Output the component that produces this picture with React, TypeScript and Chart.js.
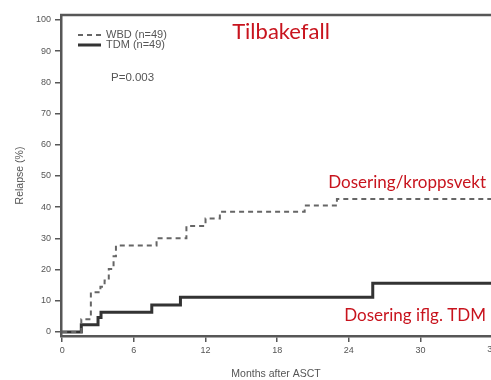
import React, { useEffect, useRef } from "react";
import { Chart, registerables } from "chart.js";

Chart.register(...registerables);

// ---- data ----
const xTickValues = [0, 6, 12, 18, 24, 30];
const xEdgeTick = 36; // partly cut off at the right edge
const yTickValues = [0, 10, 20, 30, 40, 50, 60, 70, 80, 90, 100];

const wbdLabel = "WBD (n=49)";
const wbdMonths = [0, 1.6, 2.4, 3.2, 3.55, 3.9, 4.3, 4.5, 7.9, 10.4, 12.0, 13.2, 20.3, 23.0, 35.9];
const wbdRelapse = [0, 4.1, 12.7, 14.5, 16.5, 20.2, 24.3, 27.7, 30.0, 34.0, 36.4, 38.5, 40.5, 42.6, 42.6];

const tdmLabel = "TDM (n=49)";
const tdmMonths = [0, 1.6, 3.0, 3.25, 7.5, 9.9, 26.0, 35.9];
const tdmRelapse = [0, 2.3, 4.6, 6.3, 8.6, 11.1, 15.6, 15.6];

const pValueText = "P=0.003";
const titleText = "Tilbakefall";
const wbdNote = "Dosering/kroppsvekt";
const tdmNote = "Dosering iflg. TDM";
const xTitle = "Months after ASCT";
const yTitle = "Relapse (%)";

const AXIS = "#575757";
const TEXT = "#555555";
const RED = "#c8141e";
const FONT = "'Liberation Sans', Arial, sans-serif";

const toPoints = (xs: number[], ys: number[]) => xs.map((x, i) => ({ x, y: ys[i] }));

const decorPlugin = {
  id: "decor",
  afterDraw(chart: any) {
    const { ctx, chartArea } = chart;
    ctx.save();
    // top frame line
    ctx.strokeStyle = AXIS;
    ctx.lineWidth = 2.5;
    ctx.beginPath();
    ctx.moveTo(chartArea.left - 1, chartArea.top);
    ctx.lineTo(chartArea.right, chartArea.top);
    ctx.stroke();

    // edge tick label (cut off by the canvas edge)
    const xs = chart.scales.x;
    const ex = xs.getPixelForValue(xEdgeTick);
    ctx.fillStyle = TEXT;
    ctx.font = `9px ${FONT}`;
    ctx.textAlign = "center";
    ctx.textBaseline = "top";
    ctx.fillText(String(xEdgeTick), ex, chartArea.bottom + 9);

    // legend
    const ds = chart.data.datasets;
    const lx0 = 78, lx1 = 101;
    const rows = [35, 45];
    ds.forEach((d: any, i: number) => {
      ctx.strokeStyle = d.borderColor;
      ctx.lineWidth = d.borderWidth;
      ctx.setLineDash(d.borderDash || []);
      ctx.beginPath();
      ctx.moveTo(lx0, rows[i]);
      ctx.lineTo(lx1, rows[i]);
      ctx.stroke();
      ctx.setLineDash([]);
      ctx.fillStyle = TEXT;
      ctx.font = `11px ${FONT}`;
      ctx.textBaseline = "middle";
      ctx.textAlign = "left";
      ctx.fillText(d.label, 106, rows[i]);
    });
    ctx.font = `11.5px ${FONT}`;
    ctx.fillStyle = TEXT;
    ctx.textBaseline = "alphabetic";
    ctx.fillText(pValueText, 111, 81);

    // red annotations
    ctx.fillStyle = RED;
    ctx.font = `22px Lato, 'Open Sans', sans-serif`;
    ctx.textAlign = "center";
    ctx.fillText(titleText, 281, 39);
    ctx.font = `17px Lato, 'Open Sans', sans-serif`;
    ctx.textAlign = "right";
    ctx.fillText(wbdNote, 486, 188);
    ctx.fillText(tdmNote, 486, 321);
    ctx.restore();
  },
};

export default function App() {
  const ref = useRef<HTMLCanvasElement | null>(null);

  useEffect(() => {
    document.body.style.margin = "0";
    const canvas = ref.current!;
    const chart = new Chart(canvas, {
      type: "line",
      data: {
        datasets: [
          {
            label: wbdLabel,
            data: toPoints(wbdMonths, wbdRelapse),
            stepped: "before",
            borderColor: "#666666",
            borderWidth: 2,
            borderDash: [5, 4],
            pointRadius: 0,
            fill: false,
          },
          {
            label: tdmLabel,
            data: toPoints(tdmMonths, tdmRelapse),
            stepped: "before",
            borderColor: "#333333",
            borderWidth: 3,
            pointRadius: 0,
            fill: false,
          },
        ],
      },
      options: {
        responsive: false,
        animation: false,
        layout: { padding: { top: 15, right: 0, bottom: 0, left: 0 } },
        plugins: { legend: { display: false }, tooltip: { enabled: false } },
        scales: {
          x: {
            type: "linear",
            min: -0.1,
            max: 35.9,
            afterBuildTicks: (s: any) => {
              s.ticks = xTickValues.map((v) => ({ value: v }));
            },
            afterFit: (s: any) => {
              s.height = 44;
            },
            grid: { drawOnChartArea: false, drawTicks: true, tickLength: 6, color: AXIS, lineWidth: 1.5 },
            border: { display: true, color: AXIS, width: 2.5 },
            ticks: { color: TEXT, font: { family: FONT, size: 9 }, padding: 3, maxRotation: 0, autoSkip: false },
            title: { display: true, text: xTitle, color: TEXT, font: { family: FONT, size: 10.5 }, padding: { top: 0, bottom: 0 } },
          },
          y: {
            type: "linear",
            min: -1.3,
            max: 101.6,
            afterBuildTicks: (s: any) => {
              s.ticks = yTickValues.map((v) => ({ value: v }));
            },
            afterFit: (s: any) => {
              s.width = 61;
            },
            grid: { drawOnChartArea: false, drawTicks: true, tickLength: 6, color: AXIS, lineWidth: 1.5 },
            border: { display: true, color: AXIS, width: 2.5 },
            ticks: { color: TEXT, font: { family: FONT, size: 9 }, padding: 4, autoSkip: false },
            title: { display: true, text: yTitle, color: TEXT, font: { family: FONT, size: 10.5 }, padding: { top: 13.7, bottom: 0 } },
          },
        },
      },
      plugins: [decorPlugin],
    });
    return () => chart.destroy();
  }, []);

  return (
    <div style={{ position: "absolute", left: 0, top: 0, width: 491, height: 380, background: "#fff" }}>
      <canvas ref={ref} width={491} height={380} style={{ display: "block", width: 491, height: 380 }} />
    </div>
  );
}
